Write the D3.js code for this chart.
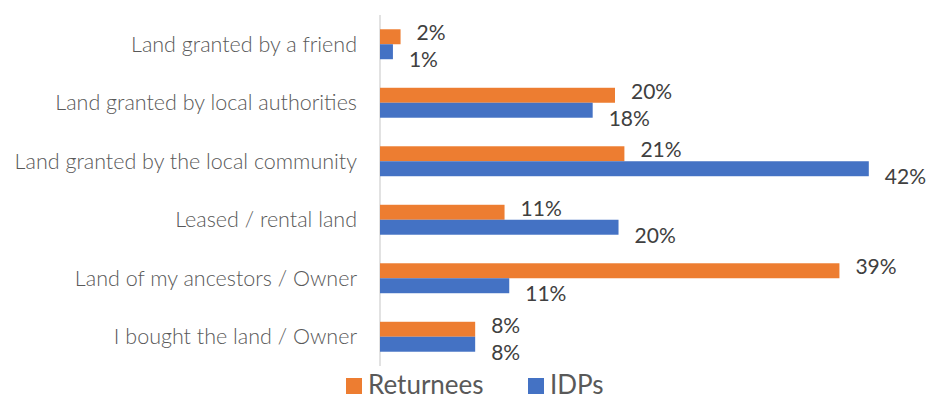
<!DOCTYPE html>
<html>
<head>
<meta charset="utf-8">
<script src="https://cdn.jsdelivr.net/npm/d3@7"></script>
<style>
  body { margin: 0; background: #fff; }
  text { font-family: Lato, "Open Sans", sans-serif; }
</style>
</head>
<body>
<svg width="928" height="401"></svg>
<script>
// categories, top to bottom
var categories = [
  "Land granted by a friend",
  "Land granted by local authorities",
  "Land granted by the local community",
  "Leased / rental land",
  "Land of my ancestors / Owner",
  "I bought the land / Owner"
];
var seriesNames = ["Returnees", "IDPs"];
var returnees = [1.75, 20.0, 20.8, 10.6, 39.1, 8.1];
var idps = [1.1, 18.1, 41.6, 20.3, 11.0, 8.1];
var colors = ["#ED7D31", "#4472C4"];

var data = categories.map(function (c, i) {
  return { cat: c, values: [returnees[i], idps[i]] };
});

var svg = d3.select("svg");

// x scale: 0 at the axis line
var x = d3.scaleLinear().domain([0, 45]).range([380, 380 + 45 * 11.75]);

var y = d3.scaleBand().domain(categories).range([15, 366]).paddingInner(0.488).paddingOuter(0.244);
var ySub = d3.scaleBand().domain([0, 1]).range([0, y.bandwidth()]);

// vertical axis line
svg.append("line")
  .attr("x1", x(0)).attr("x2", x(0))
  .attr("y1", 15).attr("y2", 366)
  .style("stroke", "#d9d9d9")
  .style("stroke-width", 1.5);

// category labels
svg.append("g").selectAll("text")
  .data(categories)
  .enter().append("text")
  .attr("x", 357)
  .attr("y", function (d) { return y(d) + y.bandwidth() / 2; })
  .attr("dy", "0.35em")
  .attr("text-anchor", "end")
  .style("font-size", "21.5px")
  .style("font-weight", 300)
  .style("fill", "#595959")
  .text(function (d) { return d; });

var groups = svg.append("g").selectAll("g")
  .data(data)
  .enter().append("g")
  .attr("transform", function (d) { return "translate(0," + y(d.cat) + ")"; });

groups.selectAll("rect")
  .data(function (d) { return d.values; })
  .enter().append("rect")
  .attr("x", x(0))
  .attr("y", function (d, i) { return ySub(i); })
  .attr("width", function (d) { return x(d) - x(0); })
  .attr("height", ySub.bandwidth())
  .style("fill", function (d, i) { return colors[i]; });

// value labels, orange nudged up, blue nudged down
var labelNudge = [-4, 8];
groups.selectAll("text")
  .data(function (d) { return d.values; })
  .enter().append("text")
  .attr("x", function (d) { return x(d) + 16; })
  .attr("y", function (d, i) { return ySub(i) + ySub.bandwidth() / 2 + labelNudge[i]; })
  .attr("dy", "0.35em")
  .style("font-size", "21px")
  .style("fill", "#404040")
  .text(function (d) { return Math.round(d) + "%"; });

// legend
var legendX = [346, 528];
var legend = svg.append("g").selectAll("g")
  .data(seriesNames)
  .enter().append("g")
  .attr("transform", function (d, i) { return "translate(" + legendX[i] + ",378)"; });

legend.append("rect")
  .attr("width", 16).attr("height", 16)
  .style("fill", function (d, i) { return colors[i]; });

legend.append("text")
  .attr("x", 22)
  .attr("y", 16)
  .style("font-size", "26px")
  .style("fill", "#595959")
  .text(function (d) { return d; });
</script>
</body>
</html>
